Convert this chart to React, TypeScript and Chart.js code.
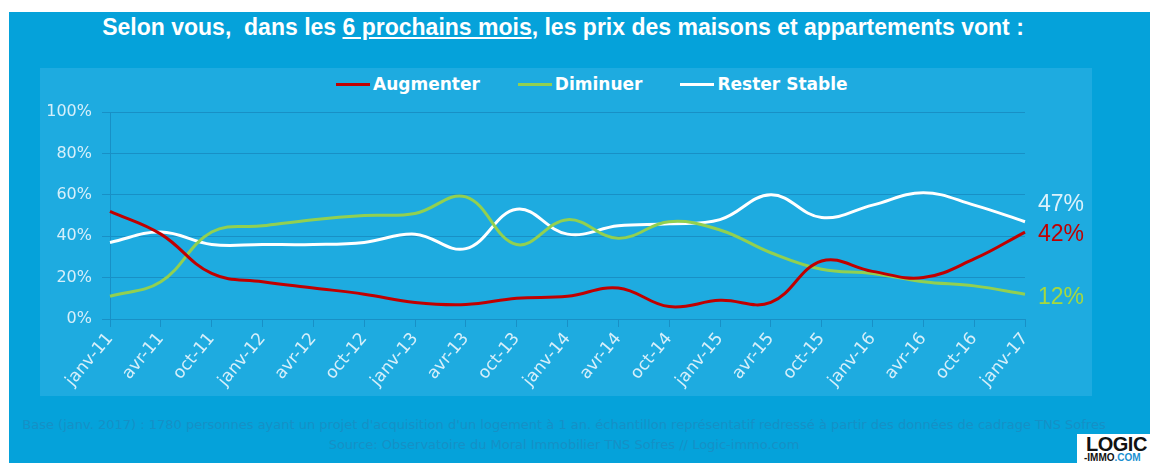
import React, { useEffect, useRef } from "react";
import { Chart, registerables } from "chart.js";

Chart.register(...registerables);

const TITLE_BEFORE = "Selon vous,\u00a0 dans les ";
const TITLE_UNDERLINED = "6 prochains mois";
const TITLE_AFTER = ", les prix des maisons et appartements vont :";

const labels = [
  "janv-11", "avr-11", "oct-11", "janv-12", "avr-12", "oct-12", "janv-13", "avr-13",
  "oct-13", "janv-14", "avr-14", "oct-14", "janv-15", "avr-15", "oct-15", "janv-16",
  "avr-16", "oct-16", "janv-17",
];

const seriesNames = ["Augmenter", "Diminuer", "Rester Stable"];

const augmenter = [52, 41, 22, 18, 15, 12, 8, 7, 10, 11, 15, 6, 9, 8, 28, 23, 20, 29, 42];
const diminuer = [11, 18, 42, 45, 48, 50, 51, 59, 36, 48, 39, 47, 43, 32, 24, 22, 18, 16, 12];
const resterStable = [37, 42, 36, 36, 36, 37, 41, 34, 53, 41, 45, 46, 48, 60, 49, 55, 61, 55, 47];

const yTicks = [0, 20, 40, 60, 80, 100];

const footerLine1 =
  "Base (janv. 2017) : 1780 personnes ayant un projet d'acquisition d'un logement à 1 an. échantillon représentatif redressé à partir des données de cadrage TNS Sofres";
const footerLine2 = "Source: Observatoire du Moral Immobilier TNS Sofres // Logic-immo.com";

const lineColors = ["#c00000", "#92d050", "#ffffff"];
const endLabelColors = ["#c00000", "#a6d83e", "#dcf2fb"];
const endLabelDy = [3, 3, -17];

const GRID = "#1890c6";
const TICK_TEXT = "#d6effa";

const endLabelsPlugin = {
  id: "endLabels",
  afterDatasetsDraw(chart: any) {
    const ctx = chart.ctx;
    chart.data.datasets.forEach((ds: any, i: number) => {
      const meta = chart.getDatasetMeta(i);
      const pt = meta.data[meta.data.length - 1];
      const v = ds.data[ds.data.length - 1];
      ctx.save();
      ctx.font = '23px "Liberation Sans", sans-serif';
      ctx.fillStyle = endLabelColors[i];
      ctx.textBaseline = "middle";
      ctx.textAlign = "left";
      ctx.fillText(v + "%", pt.x + 13, pt.y + endLabelDy[i]);
      ctx.restore();
    });
  },
};

export default function App() {
  const canvasRef = useRef<HTMLCanvasElement | null>(null);

  useEffect(() => {
    if (!canvasRef.current) return;
    const seriesData = [augmenter, diminuer, resterStable];
    const chart = new Chart(canvasRef.current, {
      type: "line",
      data: {
        labels,
        datasets: seriesData.map((d, i) => ({
          label: seriesNames[i],
          data: d,
          borderColor: lineColors[i],
          backgroundColor: lineColors[i],
          borderWidth: 3,
          pointRadius: 0,
          tension: 0.4,
          fill: false,
        })),
      },
      options: {
        responsive: false,
        animation: false,
        devicePixelRatio: 1,
        layout: { padding: { left: 0, right: 67, top: 44, bottom: 0 } },
        plugins: {
          legend: { display: false },
          tooltip: { enabled: false },
        },
        scales: {
          x: {
            offset: false,
            grid: {
              drawOnChartArea: false,
              drawTicks: true,
              tickLength: 8,
              color: GRID,
              lineWidth: 1,
            },
            border: { display: true, color: GRID },
            ticks: {
              autoSkip: false,
              maxRotation: 50,
              minRotation: 50,
              padding: 2,
              color: TICK_TEXT,
              font: { family: '"DejaVu Sans", sans-serif', size: 17 },
            },
            afterFit: (axis: any) => {
              axis.height = 77;
            },
          },
          y: {
            min: 0,
            max: 100,
            afterBuildTicks: (axis: any) => {
              axis.ticks = yTicks.map((v) => ({ value: v }));
            },
            grid: {
              drawTicks: true,
              tickLength: 8,
              color: GRID,
              lineWidth: 1,
            },
            border: { display: true, color: GRID },
            ticks: {
              padding: 10,
              color: TICK_TEXT,
              font: { family: '"DejaVu Sans", sans-serif', size: 16 },
              callback: (v: any) => v + "%",
            },
            afterFit: (axis: any) => {
              axis.width = 70;
            },
          },
        },
      },
      plugins: [endLabelsPlugin],
    });
    return () => chart.destroy();
  }, []);

  return (
    <div
      style={{
        position: "absolute",
        left: 0,
        top: 0,
        width: 1150,
        height: 463,
        background: "#ffffff",
        overflow: "hidden",
      }}
    >
      <div
        style={{
          position: "absolute",
          left: 9,
          top: 12,
          width: 1141,
          height: 451,
          background: "#05a2da",
        }}
      />
      <div
        style={{
          position: "absolute",
          left: 40,
          top: 68,
          width: 1052,
          height: 328,
          background: "#1eabe0",
        }}
      />
      <div
        style={{
          position: "absolute",
          left: 0,
          top: 13,
          width: 1126,
          textAlign: "center",
          color: "#ffffff",
          fontFamily: '"Liberation Sans", Arial, sans-serif',
          fontWeight: "bold",
          fontSize: 23,
          lineHeight: "28px",
          whiteSpace: "pre",
        }}
      >
        {TITLE_BEFORE}
        <span style={{ textDecoration: "underline" }}>{TITLE_UNDERLINED}</span>
        {TITLE_AFTER}
      </div>
      <div
        style={{
          position: "absolute",
          left: 336,
          top: 74,
          height: 20,
          display: "flex",
          alignItems: "center",
          fontFamily: '"DejaVu Sans", sans-serif',
          fontWeight: "bold",
          fontSize: 17,
          color: "#ffffff",
          whiteSpace: "pre",
        }}
      >
        {seriesNames.map((n, i) => (
          <div
            key={n}
            style={{ display: "flex", alignItems: "center", marginRight: 38 }}
          >
            <span
              style={{
                display: "inline-block",
                width: 34,
                height: 3,
                background: lineColors[i],
                marginRight: 3,
              }}
            />
            <span>{n}</span>
          </div>
        ))}
      </div>
      <div style={{ position: "absolute", left: 40, top: 68, width: 1052, height: 328 }}>
        <canvas ref={canvasRef} width={1052} height={328} style={{ display: "block" }} />
      </div>
      <div
        style={{
          position: "absolute",
          left: 0,
          top: 415,
          width: 1128,
          textAlign: "center",
          color: "#1590c6",
          fontFamily: '"DejaVu Sans", sans-serif',
          fontSize: 13,
          lineHeight: "20px",
          whiteSpace: "pre",
        }}
      >
        <div>{footerLine1}</div>
        <div>{footerLine2}</div>
      </div>
      <div
        style={{
          position: "absolute",
          left: 1077,
          top: 434,
          width: 73,
          height: 29,
          background: "#ffffff",
          overflow: "hidden",
          fontFamily: '"Liberation Sans", Arial, sans-serif',
          fontWeight: "bold",
        }}
      >
        <div
          style={{
            position: "absolute",
            left: 9,
            top: 0,
            fontSize: 20,
            lineHeight: "21px",
            color: "#111111",
            letterSpacing: -0.5,
          }}
        >
          LOGIC
        </div>
        <div
          style={{
            position: "absolute",
            left: 7,
            top: 18,
            fontSize: 10,
            lineHeight: "11px",
            color: "#111111",
            whiteSpace: "pre",
          }}
        >
          -IMMO<span style={{ color: "#1a8fd0" }}>.COM</span>
        </div>
      </div>
    </div>
  );
}
